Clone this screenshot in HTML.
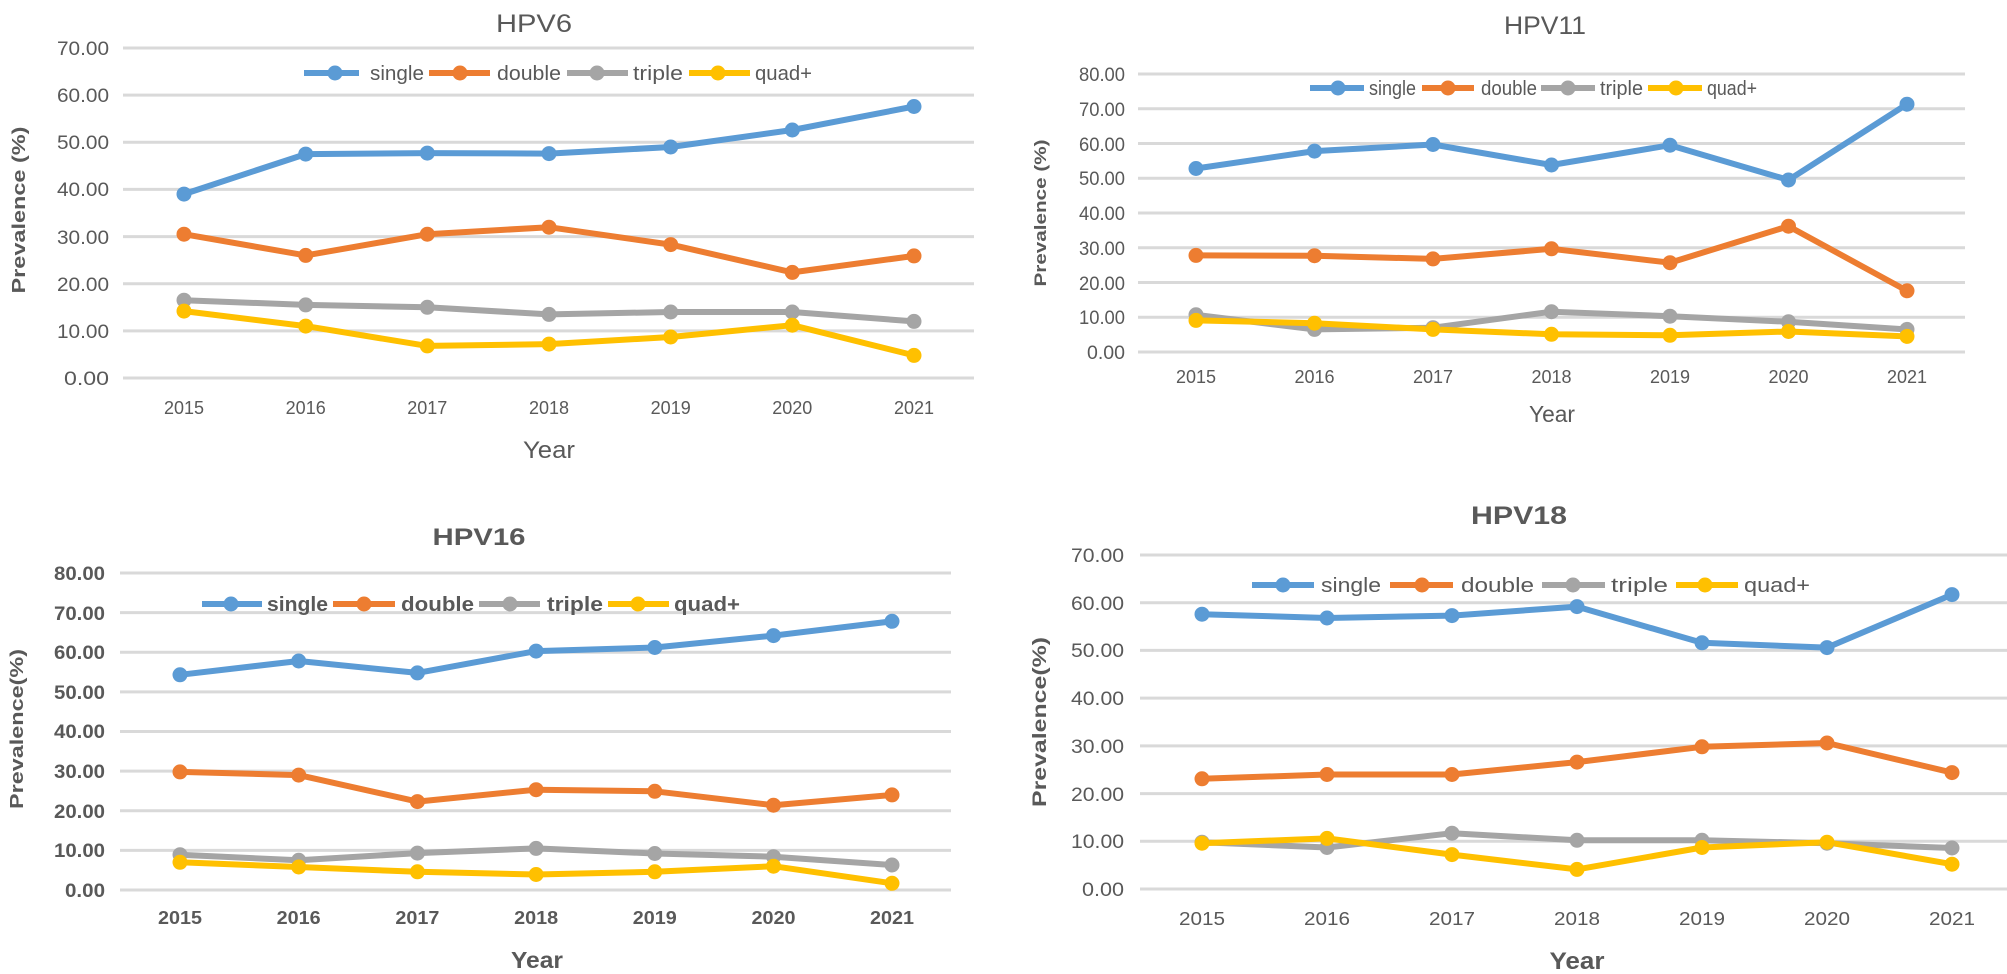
<!DOCTYPE html>
<html><head><meta charset="utf-8"><style>
html,body{margin:0;padding:0;background:#fff;}
svg{display:block;}
text{font-family:"Liberation Sans",sans-serif;fill:#595959;}
.g{stroke:#d9d9d9;stroke-width:3;}
.b{stroke:#5B9BD5;fill:#5B9BD5;}
.o{stroke:#ED7D31;fill:#ED7D31;}
.r{stroke:#A5A5A5;fill:#A5A5A5;}
.y{stroke:#FFC000;fill:#FFC000;}
polyline{fill:none!important;stroke-width:6;stroke-linejoin:round;}
.tk{font-size:19px;}
.xk{font-size:18px;}
.lg{font-size:20px;}
.bd{font-weight:bold;}
</style></head><body>
<svg width="2007" height="974" viewBox="0 0 2007 974" xmlns="http://www.w3.org/2000/svg">
<rect width="2007" height="974" fill="#fff"/>

<!-- HPV6 -->
<text x="534" y="32" font-size="25" text-anchor="middle" textLength="76" lengthAdjust="spacingAndGlyphs">HPV6</text>
<g class="g">
<line x1="123" x2="974" y1="378" y2="378"/><line x1="123" x2="974" y1="330.9" y2="330.9"/><line x1="123" x2="974" y1="283.7" y2="283.7"/><line x1="123" x2="974" y1="236.6" y2="236.6"/><line x1="123" x2="974" y1="189.4" y2="189.4"/><line x1="123" x2="974" y1="142.3" y2="142.3"/><line x1="123" x2="974" y1="95.1" y2="95.1"/><line x1="123" x2="974" y1="48" y2="48"/>
</g>
<g class="tk" text-anchor="end">
<text x="109" y="385" textLength="45" lengthAdjust="spacingAndGlyphs">0.00</text>
<text x="109" y="338" textLength="52" lengthAdjust="spacingAndGlyphs">10.00</text>
<text x="109" y="291" textLength="52" lengthAdjust="spacingAndGlyphs">20.00</text>
<text x="109" y="244" textLength="52" lengthAdjust="spacingAndGlyphs">30.00</text>
<text x="109" y="196" textLength="52" lengthAdjust="spacingAndGlyphs">40.00</text>
<text x="109" y="149" textLength="52" lengthAdjust="spacingAndGlyphs">50.00</text>
<text x="109" y="102" textLength="52" lengthAdjust="spacingAndGlyphs">60.00</text>
<text x="109" y="55" textLength="52" lengthAdjust="spacingAndGlyphs">70.00</text>
</g>
<g class="xk" text-anchor="middle">
<text x="184" y="414">2015</text><text x="305.7" y="414">2016</text><text x="427.3" y="414">2017</text><text x="549" y="414">2018</text><text x="670.7" y="414">2019</text><text x="792.3" y="414">2020</text><text x="914" y="414">2021</text>
</g>
<text x="549" y="458" font-size="24" text-anchor="middle" textLength="52" lengthAdjust="spacingAndGlyphs">Year</text>
<text transform="translate(25,210) rotate(-90)" font-size="18" class="bd" text-anchor="middle" textLength="167" lengthAdjust="spacingAndGlyphs">Prevalence (%)</text>
<polyline class="b" points="184,194.1 305.7,154.1 427.3,153.1 549,153.6 670.7,147 792.3,130 914,106.5"/>
<polyline class="o" points="184,234.2 305.7,255.4 427.3,234.2 549,227.2 670.7,244.6 792.3,272.4 914,255.9"/>
<polyline class="r" points="184,300.2 305.7,304.9 427.3,307.3 549,314.4 670.7,312 792.3,312 914,321.4"/>
<polyline class="y" points="184,311.1 305.7,326.1 427.3,345.9 549,344.1 670.7,337 792.3,325.2 914,355.4"/>
<g class="b"><circle cx="184" cy="194.1" r="7"/><circle cx="305.7" cy="154.1" r="7"/><circle cx="427.3" cy="153.1" r="7"/><circle cx="549" cy="153.6" r="7"/><circle cx="670.7" cy="147" r="7"/><circle cx="792.3" cy="130" r="7"/><circle cx="914" cy="106.5" r="7"/></g>
<g class="o"><circle cx="184" cy="234.2" r="7"/><circle cx="305.7" cy="255.4" r="7"/><circle cx="427.3" cy="234.2" r="7"/><circle cx="549" cy="227.2" r="7"/><circle cx="670.7" cy="244.6" r="7"/><circle cx="792.3" cy="272.4" r="7"/><circle cx="914" cy="255.9" r="7"/></g>
<g class="r"><circle cx="184" cy="300.2" r="7"/><circle cx="305.7" cy="304.9" r="7"/><circle cx="427.3" cy="307.3" r="7"/><circle cx="549" cy="314.4" r="7"/><circle cx="670.7" cy="312" r="7"/><circle cx="792.3" cy="312" r="7"/><circle cx="914" cy="321.4" r="7"/></g>
<g class="y"><circle cx="184" cy="311.1" r="7"/><circle cx="305.7" cy="326.1" r="7"/><circle cx="427.3" cy="345.9" r="7"/><circle cx="549" cy="344.1" r="7"/><circle cx="670.7" cy="337" r="7"/><circle cx="792.3" cy="325.2" r="7"/><circle cx="914" cy="355.4" r="7"/></g>
<line class="b" x1="304" x2="359" y1="73" y2="73" stroke-width="6"/><circle class="b" cx="335" cy="73" r="7"/>
<line class="o" x1="429" x2="490" y1="73" y2="73" stroke-width="6"/><circle class="o" cx="460" cy="73" r="7"/>
<line class="r" x1="567" x2="628" y1="73" y2="73" stroke-width="6"/><circle class="r" cx="597" cy="73" r="7"/>
<line class="y" x1="689" x2="750" y1="73" y2="73" stroke-width="6"/><circle class="y" cx="718" cy="73" r="7"/>
<g class="lg"><text x="370" y="80" textLength="54" lengthAdjust="spacingAndGlyphs">single</text><text x="497" y="80" textLength="64" lengthAdjust="spacingAndGlyphs">double</text><text x="633" y="80" textLength="50" lengthAdjust="spacingAndGlyphs">triple</text><text x="755" y="80" textLength="57" lengthAdjust="spacingAndGlyphs">quad+</text></g>

<!-- HPV11 -->
<text x="1545" y="34" font-size="25" text-anchor="middle" textLength="82" lengthAdjust="spacingAndGlyphs">HPV11</text>
<g class="g">
<line x1="1138" x2="1965" y1="352" y2="352"/><line x1="1138" x2="1965" y1="317.25" y2="317.25"/><line x1="1138" x2="1965" y1="282.5" y2="282.5"/><line x1="1138" x2="1965" y1="247.75" y2="247.75"/><line x1="1138" x2="1965" y1="213" y2="213"/><line x1="1138" x2="1965" y1="178.25" y2="178.25"/><line x1="1138" x2="1965" y1="143.5" y2="143.5"/><line x1="1138" x2="1965" y1="108.75" y2="108.75"/><line x1="1138" x2="1965" y1="74" y2="74"/>
</g>
<g class="tk" text-anchor="end">
<text x="1125" y="359" textLength="38" lengthAdjust="spacingAndGlyphs">0.00</text>
<text x="1125" y="324" textLength="46" lengthAdjust="spacingAndGlyphs">10.00</text>
<text x="1125" y="290" textLength="46" lengthAdjust="spacingAndGlyphs">20.00</text>
<text x="1125" y="255" textLength="46" lengthAdjust="spacingAndGlyphs">30.00</text>
<text x="1125" y="220" textLength="46" lengthAdjust="spacingAndGlyphs">40.00</text>
<text x="1125" y="185" textLength="46" lengthAdjust="spacingAndGlyphs">50.00</text>
<text x="1125" y="151" textLength="46" lengthAdjust="spacingAndGlyphs">60.00</text>
<text x="1125" y="116" textLength="46" lengthAdjust="spacingAndGlyphs">70.00</text>
<text x="1125" y="81" textLength="46" lengthAdjust="spacingAndGlyphs">80.00</text>
</g>
<g class="xk" text-anchor="middle" font-size="17">
<text x="1196" y="383">2015</text><text x="1314.5" y="383">2016</text><text x="1433" y="383">2017</text><text x="1551.5" y="383">2018</text><text x="1670" y="383">2019</text><text x="1788.5" y="383">2020</text><text x="1907" y="383">2021</text>
</g>
<text x="1552" y="422" font-size="23" text-anchor="middle" textLength="46" lengthAdjust="spacingAndGlyphs">Year</text>
<text transform="translate(1046,213) rotate(-90)" font-size="17" class="bd" text-anchor="middle" textLength="147" lengthAdjust="spacingAndGlyphs">Prevalence (%)</text>
<polyline class="b" points="1196,168.5 1314.5,151.1 1433,144.5 1551.5,165 1670,145.2 1788.5,180 1907,104.2"/>
<polyline class="o" points="1196,255.4 1314.5,255.7 1433,258.9 1551.5,248.8 1670,262.7 1788.5,226.2 1907,290.8"/>
<polyline class="r" points="1196,314.8 1314.5,329.4 1433,327.7 1551.5,311.7 1670,316.2 1788.5,321.8 1907,329.4"/>
<polyline class="y" points="1196,320.4 1314.5,323.2 1433,329.4 1551.5,334.3 1670,335.3 1788.5,331.5 1907,336.4"/>
<g class="b"><circle cx="1196" cy="168.5" r="7"/><circle cx="1314.5" cy="151.1" r="7"/><circle cx="1433" cy="144.5" r="7"/><circle cx="1551.5" cy="165" r="7"/><circle cx="1670" cy="145.2" r="7"/><circle cx="1788.5" cy="180" r="7"/><circle cx="1907" cy="104.2" r="7"/></g>
<g class="o"><circle cx="1196" cy="255.4" r="7"/><circle cx="1314.5" cy="255.7" r="7"/><circle cx="1433" cy="258.9" r="7"/><circle cx="1551.5" cy="248.8" r="7"/><circle cx="1670" cy="262.7" r="7"/><circle cx="1788.5" cy="226.2" r="7"/><circle cx="1907" cy="290.8" r="7"/></g>
<g class="r"><circle cx="1196" cy="314.8" r="7"/><circle cx="1314.5" cy="329.4" r="7"/><circle cx="1433" cy="327.7" r="7"/><circle cx="1551.5" cy="311.7" r="7"/><circle cx="1670" cy="316.2" r="7"/><circle cx="1788.5" cy="321.8" r="7"/><circle cx="1907" cy="329.4" r="7"/></g>
<g class="y"><circle cx="1196" cy="320.4" r="7"/><circle cx="1314.5" cy="323.2" r="7"/><circle cx="1433" cy="329.4" r="7"/><circle cx="1551.5" cy="334.3" r="7"/><circle cx="1670" cy="335.3" r="7"/><circle cx="1788.5" cy="331.5" r="7"/><circle cx="1907" cy="336.4" r="7"/></g>
<line class="b" x1="1310" x2="1364" y1="88" y2="88" stroke-width="6"/><circle class="b" cx="1338" cy="88" r="7"/>
<line class="o" x1="1422" x2="1474" y1="88" y2="88" stroke-width="6"/><circle class="o" cx="1448" cy="88" r="7"/>
<line class="r" x1="1541" x2="1595" y1="88" y2="88" stroke-width="6"/><circle class="r" cx="1568" cy="88" r="7"/>
<line class="y" x1="1648" x2="1702" y1="88" y2="88" stroke-width="6"/><circle class="y" cx="1676" cy="88" r="7"/>
<g class="lg" font-size="18"><text x="1369" y="95" textLength="47" lengthAdjust="spacingAndGlyphs">single</text><text x="1481" y="95" textLength="56" lengthAdjust="spacingAndGlyphs">double</text><text x="1600" y="95" textLength="43" lengthAdjust="spacingAndGlyphs">triple</text><text x="1707" y="95" textLength="50" lengthAdjust="spacingAndGlyphs">quad+</text></g>

<!-- HPV16 -->
<text x="479" y="545" font-size="24" class="bd" text-anchor="middle" textLength="93" lengthAdjust="spacingAndGlyphs">HPV16</text>
<g class="g">
<line x1="120" x2="951" y1="890" y2="890"/><line x1="120" x2="951" y1="850.4" y2="850.4"/><line x1="120" x2="951" y1="810.75" y2="810.75"/><line x1="120" x2="951" y1="771.1" y2="771.1"/><line x1="120" x2="951" y1="731.5" y2="731.5"/><line x1="120" x2="951" y1="691.9" y2="691.9"/><line x1="120" x2="951" y1="652.25" y2="652.25"/><line x1="120" x2="951" y1="612.6" y2="612.6"/><line x1="120" x2="951" y1="573" y2="573"/>
</g>
<g class="tk bd" text-anchor="end">
<text x="105" y="897" textLength="40" lengthAdjust="spacingAndGlyphs">0.00</text>
<text x="105" y="857" textLength="51" lengthAdjust="spacingAndGlyphs">10.00</text>
<text x="105" y="818" textLength="51" lengthAdjust="spacingAndGlyphs">20.00</text>
<text x="105" y="778" textLength="51" lengthAdjust="spacingAndGlyphs">30.00</text>
<text x="105" y="738" textLength="51" lengthAdjust="spacingAndGlyphs">40.00</text>
<text x="105" y="699" textLength="51" lengthAdjust="spacingAndGlyphs">50.00</text>
<text x="105" y="659" textLength="51" lengthAdjust="spacingAndGlyphs">60.00</text>
<text x="105" y="620" textLength="51" lengthAdjust="spacingAndGlyphs">70.00</text>
<text x="105" y="580" textLength="51" lengthAdjust="spacingAndGlyphs">80.00</text>
</g>
<g class="xk bd" text-anchor="middle">
<text x="180" y="924" textLength="44" lengthAdjust="spacingAndGlyphs">2015</text><text x="298.7" y="924" textLength="44" lengthAdjust="spacingAndGlyphs">2016</text><text x="417.4" y="924" textLength="44" lengthAdjust="spacingAndGlyphs">2017</text><text x="536.1" y="924" textLength="44" lengthAdjust="spacingAndGlyphs">2018</text><text x="654.8" y="924" textLength="44" lengthAdjust="spacingAndGlyphs">2019</text><text x="773.5" y="924" textLength="44" lengthAdjust="spacingAndGlyphs">2020</text><text x="892" y="924" textLength="44" lengthAdjust="spacingAndGlyphs">2021</text>
</g>
<text x="537" y="968" font-size="23" class="bd" text-anchor="middle" textLength="52" lengthAdjust="spacingAndGlyphs">Year</text>
<text transform="translate(23,729) rotate(-90)" font-size="18" class="bd" text-anchor="middle" textLength="160" lengthAdjust="spacingAndGlyphs">Prevalence(%)</text>
<polyline class="b" points="180,674.8 298.7,661 417.4,672.9 536.1,651.1 654.8,647.5 773.5,635.6 892,621.3"/>
<polyline class="o" points="180,771.9 298.7,775.1 417.4,801.6 536.1,789.7 654.8,791.3 773.5,805.2 892,794.9"/>
<polyline class="r" points="180,854.7 298.7,860.3 417.4,853.1 536.1,848.4 654.8,853.5 773.5,856.7 892,865"/>
<polyline class="y" points="180,862.3 298.7,867 417.4,871.8 536.1,874.5 654.8,871.8 773.5,866.2 892,883.3"/>
<g class="b"><circle cx="180" cy="674.8" r="7"/><circle cx="298.7" cy="661" r="7"/><circle cx="417.4" cy="672.9" r="7"/><circle cx="536.1" cy="651.1" r="7"/><circle cx="654.8" cy="647.5" r="7"/><circle cx="773.5" cy="635.6" r="7"/><circle cx="892" cy="621.3" r="7"/></g>
<g class="o"><circle cx="180" cy="771.9" r="7"/><circle cx="298.7" cy="775.1" r="7"/><circle cx="417.4" cy="801.6" r="7"/><circle cx="536.1" cy="789.7" r="7"/><circle cx="654.8" cy="791.3" r="7"/><circle cx="773.5" cy="805.2" r="7"/><circle cx="892" cy="794.9" r="7"/></g>
<g class="r"><circle cx="180" cy="854.7" r="7"/><circle cx="298.7" cy="860.3" r="7"/><circle cx="417.4" cy="853.1" r="7"/><circle cx="536.1" cy="848.4" r="7"/><circle cx="654.8" cy="853.5" r="7"/><circle cx="773.5" cy="856.7" r="7"/><circle cx="892" cy="865" r="7"/></g>
<g class="y"><circle cx="180" cy="862.3" r="7"/><circle cx="298.7" cy="867" r="7"/><circle cx="417.4" cy="871.8" r="7"/><circle cx="536.1" cy="874.5" r="7"/><circle cx="654.8" cy="871.8" r="7"/><circle cx="773.5" cy="866.2" r="7"/><circle cx="892" cy="883.3" r="7"/></g>
<line class="b" x1="202" x2="262" y1="604" y2="604" stroke-width="6"/><circle class="b" cx="231" cy="604" r="7"/>
<line class="o" x1="333" x2="395" y1="604" y2="604" stroke-width="6"/><circle class="o" cx="364" cy="604" r="7"/>
<line class="r" x1="479" x2="540" y1="604" y2="604" stroke-width="6"/><circle class="r" cx="510" cy="604" r="7"/>
<line class="y" x1="608" x2="669" y1="604" y2="604" stroke-width="6"/><circle class="y" cx="638" cy="604" r="7"/>
<g class="lg bd"><text x="267" y="611" textLength="61" lengthAdjust="spacingAndGlyphs">single</text><text x="401" y="611" textLength="73" lengthAdjust="spacingAndGlyphs">double</text><text x="547" y="611" textLength="56" lengthAdjust="spacingAndGlyphs">triple</text><text x="674" y="611" textLength="66" lengthAdjust="spacingAndGlyphs">quad+</text></g>

<!-- HPV18 -->
<text x="1519" y="524" font-size="25" class="bd" text-anchor="middle" textLength="96" lengthAdjust="spacingAndGlyphs">HPV18</text>
<g class="g">
<line x1="1140" x2="2007" y1="889" y2="889"/><line x1="1140" x2="2007" y1="841.3" y2="841.3"/><line x1="1140" x2="2007" y1="793.6" y2="793.6"/><line x1="1140" x2="2007" y1="745.9" y2="745.9"/><line x1="1140" x2="2007" y1="698.1" y2="698.1"/><line x1="1140" x2="2007" y1="650.4" y2="650.4"/><line x1="1140" x2="2007" y1="602.7" y2="602.7"/><line x1="1140" x2="2007" y1="555" y2="555"/>
</g>
<g class="tk" text-anchor="end">
<text x="1124" y="896" textLength="42" lengthAdjust="spacingAndGlyphs">0.00</text>
<text x="1124" y="848" textLength="53" lengthAdjust="spacingAndGlyphs">10.00</text>
<text x="1124" y="801" textLength="53" lengthAdjust="spacingAndGlyphs">20.00</text>
<text x="1124" y="753" textLength="53" lengthAdjust="spacingAndGlyphs">30.00</text>
<text x="1124" y="705" textLength="53" lengthAdjust="spacingAndGlyphs">40.00</text>
<text x="1124" y="657" textLength="53" lengthAdjust="spacingAndGlyphs">50.00</text>
<text x="1124" y="610" textLength="53" lengthAdjust="spacingAndGlyphs">60.00</text>
<text x="1124" y="562" textLength="53" lengthAdjust="spacingAndGlyphs">70.00</text>
</g>
<g class="xk" text-anchor="middle">
<text x="1202" y="925" textLength="46" lengthAdjust="spacingAndGlyphs">2015</text><text x="1327" y="925" textLength="46" lengthAdjust="spacingAndGlyphs">2016</text><text x="1452" y="925" textLength="46" lengthAdjust="spacingAndGlyphs">2017</text><text x="1577" y="925" textLength="46" lengthAdjust="spacingAndGlyphs">2018</text><text x="1702" y="925" textLength="46" lengthAdjust="spacingAndGlyphs">2019</text><text x="1827" y="925" textLength="46" lengthAdjust="spacingAndGlyphs">2020</text><text x="1952" y="925" textLength="46" lengthAdjust="spacingAndGlyphs">2021</text>
</g>
<text x="1577" y="969" font-size="24" class="bd" text-anchor="middle" textLength="55" lengthAdjust="spacingAndGlyphs">Year</text>
<text transform="translate(1046,722) rotate(-90)" font-size="19" class="bd" text-anchor="middle" textLength="170" lengthAdjust="spacingAndGlyphs">Prevalence(%)</text>
<polyline class="b" points="1202,614.2 1327,618 1452,615.6 1577,606.6 1702,642.8 1827,647.6 1952,594.6"/>
<polyline class="o" points="1202,778.8 1327,774.5 1452,774.5 1577,762.1 1702,746.8 1827,743 1952,772.6"/>
<polyline class="r" points="1202,842.2 1327,847.5 1452,833.2 1577,840.3 1702,840.3 1827,843.2 1952,848"/>
<polyline class="y" points="1202,843.2 1327,838.4 1452,854.6 1577,869.4 1702,847.5 1827,842.2 1952,864.2"/>
<g class="b"><circle cx="1202" cy="614.2" r="7"/><circle cx="1327" cy="618" r="7"/><circle cx="1452" cy="615.6" r="7"/><circle cx="1577" cy="606.6" r="7"/><circle cx="1702" cy="642.8" r="7"/><circle cx="1827" cy="647.6" r="7"/><circle cx="1952" cy="594.6" r="7"/></g>
<g class="o"><circle cx="1202" cy="778.8" r="7"/><circle cx="1327" cy="774.5" r="7"/><circle cx="1452" cy="774.5" r="7"/><circle cx="1577" cy="762.1" r="7"/><circle cx="1702" cy="746.8" r="7"/><circle cx="1827" cy="743" r="7"/><circle cx="1952" cy="772.6" r="7"/></g>
<g class="r"><circle cx="1202" cy="842.2" r="7"/><circle cx="1327" cy="847.5" r="7"/><circle cx="1452" cy="833.2" r="7"/><circle cx="1577" cy="840.3" r="7"/><circle cx="1702" cy="840.3" r="7"/><circle cx="1827" cy="843.2" r="7"/><circle cx="1952" cy="848" r="7"/></g>
<g class="y"><circle cx="1202" cy="843.2" r="7"/><circle cx="1327" cy="838.4" r="7"/><circle cx="1452" cy="854.6" r="7"/><circle cx="1577" cy="869.4" r="7"/><circle cx="1702" cy="847.5" r="7"/><circle cx="1827" cy="842.2" r="7"/><circle cx="1952" cy="864.2" r="7"/></g>
<line class="b" x1="1252" x2="1314" y1="585" y2="585" stroke-width="6"/><circle class="b" cx="1283" cy="585" r="7"/>
<line class="o" x1="1390" x2="1453" y1="585" y2="585" stroke-width="6"/><circle class="o" cx="1422" cy="585" r="7"/>
<line class="r" x1="1542" x2="1605" y1="585" y2="585" stroke-width="6"/><circle class="r" cx="1573" cy="585" r="7"/>
<line class="y" x1="1676" x2="1738" y1="585" y2="585" stroke-width="6"/><circle class="y" cx="1705" cy="585" r="7"/>
<g class="lg"><text x="1321" y="592" textLength="60" lengthAdjust="spacingAndGlyphs">single</text><text x="1461" y="592" textLength="73" lengthAdjust="spacingAndGlyphs">double</text><text x="1611" y="592" textLength="57" lengthAdjust="spacingAndGlyphs">triple</text><text x="1744" y="592" textLength="66" lengthAdjust="spacingAndGlyphs">quad+</text></g>
</svg>
</body></html>
